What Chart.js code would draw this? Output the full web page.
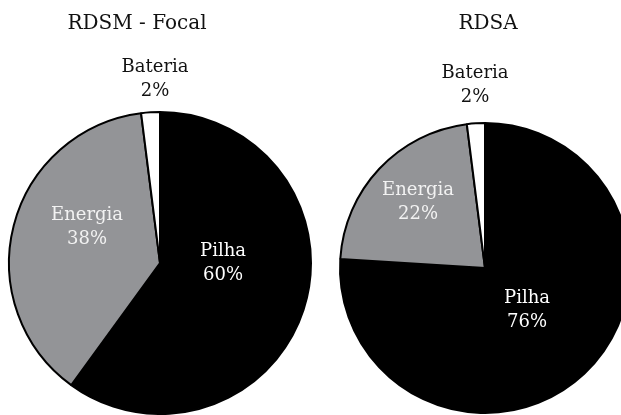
<!DOCTYPE html>
<html>
<head>
<meta charset="utf-8">
<script src="https://cdn.jsdelivr.net/npm/chart.js@4/dist/chart.umd.min.js"></script>
<style>
    html, body { margin: 0; padding: 0; background: #fff; overflow: hidden; }
    body { width: 621px; height: 415px; position: relative; }
    .pie-box { position: absolute; top: 0; height: 415px; width: 320px; }
    #box-focal { left: 0; }
    #box-rdsa { left: 320px; }
</style>
</head>
<body>
<div class="pie-box" id="box-focal"><canvas id="pie-focal"></canvas></div>
<div class="pie-box" id="box-rdsa"><canvas id="pie-rdsa"></canvas></div>
<script>
// Categories and shares (%)
const categories = ['Pilha', 'Energia', 'Bateria'];
const focalValues = [60, 38, 2];
const rdsaValues = [76, 22, 2];
const chartTitles = ['RDSM - Focal', 'RDSA'];

const sliceColors = ['#000000', '#939497', '#ffffff'];
const labelColors = ['#ffffff', '#f2f2f2', '#111111'];
const FONT = '"DejaVu Serif", "Liberation Serif", serif';

// Draws the title and the two-line slice labels, positioned from the pie centre
const pieText = {
    id: 'pieText',
    afterDatasetsDraw(chart, args, opts) {
        const arc = chart.getDatasetMeta(0).data[0];
        if (!arc) return;
        const cx = arc.x, cy = arc.y;
        const ctx = chart.ctx;
        const values = chart.data.datasets[0].data;
        ctx.save();
        ctx.textAlign = 'center';
        ctx.textBaseline = 'middle';

        ctx.fillStyle = '#111';
        ctx.font = `20px ${FONT}`;
        ctx.fillText(opts.title, cx + opts.titleDx, opts.titleY);

        ctx.font = `18px ${FONT}`;
        chart.data.labels.forEach((name, i) => {
            const [dx, dy] = opts.labelOffsets[i];
            ctx.fillStyle = labelColors[i];
            ctx.fillText(name, cx + dx, cy + dy);
            ctx.fillText(values[i] + '%', cx + dx, cy + dy + 24);
        });
        ctx.restore();
    }
};

function makePie(canvasId, values, title, padding, textOpts) {
    const ctx = document.getElementById(canvasId).getContext('2d');
    return new Chart(ctx, {
        type: 'pie',
        data: {
            labels: categories,
            datasets: [{
                data: values,
                backgroundColor: sliceColors,
                borderColor: '#000',
                borderWidth: 2
            }]
        },
        options: {
            responsive: true,
            maintainAspectRatio: false,
            animation: false,
            layout: { padding: padding },
            plugins: {
                legend: { display: false },
                tooltip: { enabled: false },
                pieText: Object.assign({ title: title }, textOpts)
            }
        },
        plugins: [pieText]
    });
}

makePie('pie-focal', focalValues, chartTitles[0],
    { left: 8, right: 8, top: 111, bottom: 0 },
    { titleDx: -23, titleY: 24, labelOffsets: [[63, -12], [-73, -48], [-5, -196]] });

makePie('pie-rdsa', rdsaValues, chartTitles[1],
    { left: 19, right: 9, top: 121, bottom: 0 },
    { titleDx: 3, titleY: 24, labelOffsets: [[42, 30], [-67, -78], [-10, -195]] });
</script>
</body>
</html>
